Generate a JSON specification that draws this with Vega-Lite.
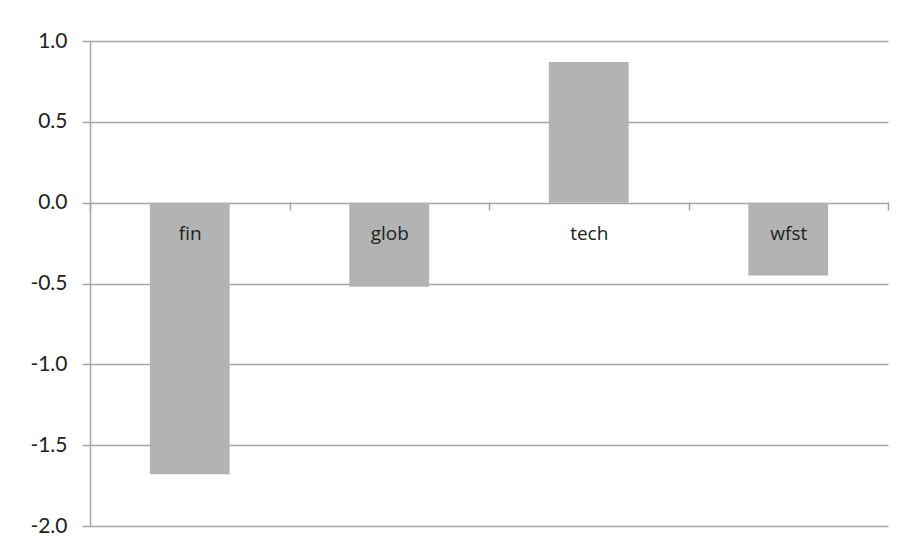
{
  "$schema": "https://vega.github.io/schema/vega-lite/v6.json",
  "width": 798,
  "height": 485,
  "autosize": "none",
  "padding": {"left": 90, "top": 41, "right": 14, "bottom": 22},
  "background": "white",
  "config": {"view": {"stroke": null}},
  "data": {"values": [
    {"cat": "fin", "value": -1.68},
    {"cat": "glob", "value": -0.52},
    {"cat": "tech", "value": 0.87},
    {"cat": "wfst", "value": -0.45}
  ]},
  "mark": {"type": "bar", "color": "#b3b3b3", "width": {"band": 0.4}},
  "encoding": {
    "x": {
      "field": "cat", "type": "nominal", "sort": null,
      "scale": {"paddingInner": 0, "paddingOuter": 0},
      "axis": {
        "title": null, "orient": "bottom", "offset": -324, "labelAngle": 0,
        "domain": false, "ticks": true, "tickBand": "extent", "tickSize": 8,
        "tickColor": "#a6a6a6", "tickWidth": 1.5,
        "labelFont": "Open Sans", "labelFontSize": 19, "labelColor": "#222",
        "labelPadding": 14, "zindex": 1
      }
    },
    "y": {
      "field": "value", "type": "quantitative",
      "scale": {"domain": [-2, 1], "nice": false},
      "axis": {
        "title": null, "values": [-2, -1.5, -1, -0.5, 0, 0.5, 1],
        "labelExpr": "replace(format(datum.value, '.1f'), '\u2212', '-')",
        "grid": true, "gridColor": "#a6a6a6", "gridWidth": 1.5,
        "domain": true, "domainColor": "#a6a6a6", "domainWidth": 1.5,
        "tickSize": 8, "tickColor": "#a6a6a6", "tickWidth": 1.5,
        "labelFont": "Lato", "labelFontSize": 21, "labelColor": "#222",
        "labelPadding": 15
      }
    }
  }
}
